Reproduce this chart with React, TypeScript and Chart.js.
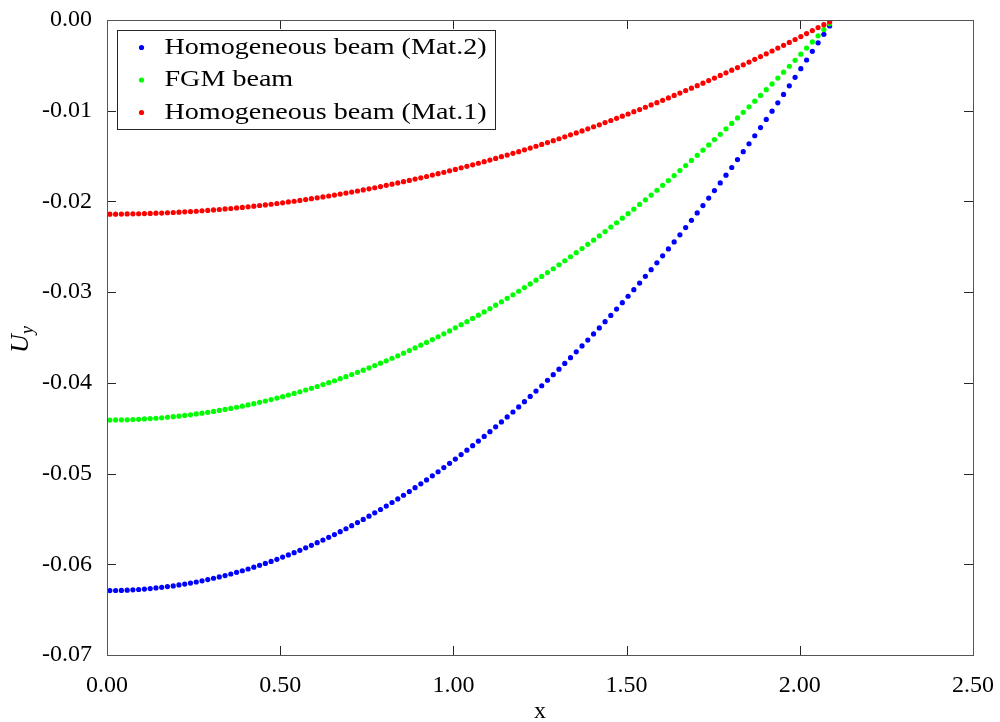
import { useEffect, useRef } from "react";
import { Chart, registerables } from "chart.js";

Chart.register(...registerables);

// x positions of the plotted points
const xPositions = [
  0.0083, 0.0249, 0.0416, 0.0582, 0.0748, 0.0914, 0.1080, 0.1247, 0.1413, 0.1579,
  0.1745, 0.1912, 0.2078, 0.2244, 0.2410, 0.2576, 0.2743, 0.2909, 0.3075, 0.3241,
  0.3408, 0.3574, 0.3740, 0.3906, 0.4072, 0.4239, 0.4405, 0.4571, 0.4737, 0.4904,
  0.5070, 0.5236, 0.5402, 0.5568, 0.5735, 0.5901, 0.6067, 0.6233, 0.6400, 0.6566,
  0.6732, 0.6898, 0.7064, 0.7231, 0.7397, 0.7563, 0.7729, 0.7896, 0.8062, 0.8228,
  0.8394, 0.8560, 0.8727, 0.8893, 0.9059, 0.9225, 0.9392, 0.9558, 0.9724, 0.9890,
  1.0056, 1.0223, 1.0389, 1.0555, 1.0721, 1.0888, 1.1054, 1.1220, 1.1386, 1.1552,
  1.1719, 1.1885, 1.2051, 1.2217, 1.2384, 1.2550, 1.2716, 1.2882, 1.3048, 1.3215,
  1.3381, 1.3547, 1.3713, 1.3880, 1.4046, 1.4212, 1.4378, 1.4544, 1.4711, 1.4877,
  1.5043, 1.5209, 1.5376, 1.5542, 1.5708, 1.5874, 1.6040, 1.6207, 1.6373, 1.6539,
  1.6705, 1.6872, 1.7038, 1.7204, 1.7370, 1.7536, 1.7703, 1.7869, 1.8035, 1.8201,
  1.8368, 1.8534, 1.8700, 1.8866, 1.9032, 1.9199, 1.9365, 1.9531, 1.9697, 1.9864,
  2.0030, 2.0196, 2.0362, 2.0528, 2.0695, 2.0861,
];

// Homogeneous beam (Mat.2) - blue
const uyMat2 = [
  -0.06290, -0.06289, -0.06288, -0.06285, -0.06282, -0.06278, -0.06273, -0.06268, -0.06261, -0.06254,
  -0.06246, -0.06238, -0.06228, -0.06218, -0.06207, -0.06195, -0.06182, -0.06169, -0.06154, -0.06139,
  -0.06124, -0.06107, -0.06089, -0.06071, -0.06052, -0.06032, -0.06012, -0.05990, -0.05968, -0.05945,
  -0.05921, -0.05897, -0.05872, -0.05846, -0.05818, -0.05791, -0.05762, -0.05733, -0.05703, -0.05672,
  -0.05640, -0.05608, -0.05574, -0.05540, -0.05505, -0.05470, -0.05433, -0.05396, -0.05358, -0.05319,
  -0.05280, -0.05239, -0.05198, -0.05156, -0.05113, -0.05070, -0.05025, -0.04980, -0.04934, -0.04887,
  -0.04840, -0.04791, -0.04742, -0.04692, -0.04642, -0.04590, -0.04538, -0.04485, -0.04431, -0.04376,
  -0.04321, -0.04265, -0.04207, -0.04150, -0.04091, -0.04032, -0.03971, -0.03910, -0.03849, -0.03786,
  -0.03722, -0.03658, -0.03593, -0.03528, -0.03461, -0.03394, -0.03326, -0.03257, -0.03187, -0.03116,
  -0.03045, -0.02973, -0.02900, -0.02826, -0.02752, -0.02677, -0.02600, -0.02524, -0.02446, -0.02368,
  -0.02288, -0.02208, -0.02127, -0.02046, -0.01963, -0.01880, -0.01796, -0.01711, -0.01626, -0.01539,
  -0.01452, -0.01364, -0.01276, -0.01186, -0.01096, -0.01005, -0.00913, -0.00820, -0.00726, -0.00632,
  -0.00537, -0.00441, -0.00345, -0.00252, -0.00158, -0.00065,
];

// FGM beam - green
const uyFGM = [
  -0.04410, -0.04409, -0.04408, -0.04407, -0.04404, -0.04402, -0.04398, -0.04394, -0.04390, -0.04385,
  -0.04379, -0.04373, -0.04367, -0.04359, -0.04352, -0.04343, -0.04334, -0.04325, -0.04315, -0.04304,
  -0.04293, -0.04282, -0.04269, -0.04257, -0.04243, -0.04229, -0.04215, -0.04200, -0.04184, -0.04168,
  -0.04152, -0.04134, -0.04117, -0.04098, -0.04079, -0.04060, -0.04040, -0.04019, -0.03998, -0.03977,
  -0.03954, -0.03932, -0.03908, -0.03884, -0.03860, -0.03835, -0.03809, -0.03783, -0.03757, -0.03729,
  -0.03702, -0.03673, -0.03644, -0.03615, -0.03585, -0.03554, -0.03523, -0.03492, -0.03459, -0.03427,
  -0.03393, -0.03359, -0.03325, -0.03290, -0.03254, -0.03218, -0.03182, -0.03144, -0.03107, -0.03068,
  -0.03029, -0.02990, -0.02950, -0.02909, -0.02868, -0.02827, -0.02784, -0.02742, -0.02698, -0.02654,
  -0.02610, -0.02565, -0.02519, -0.02473, -0.02427, -0.02380, -0.02332, -0.02283, -0.02235, -0.02185,
  -0.02135, -0.02085, -0.02033, -0.01982, -0.01930, -0.01877, -0.01823, -0.01770, -0.01715, -0.01660,
  -0.01605, -0.01548, -0.01492, -0.01435, -0.01377, -0.01318, -0.01260, -0.01200, -0.01140, -0.01080,
  -0.01018, -0.00957, -0.00895, -0.00832, -0.00768, -0.00705, -0.00640, -0.00575, -0.00510, -0.00444,
  -0.00377, -0.00310, -0.00242, -0.00174, -0.00105, -0.00040,
];

// Homogeneous beam (Mat.1) - red
const uyMat1 = [
  -0.02140, -0.02140, -0.02139, -0.02138, -0.02137, -0.02136, -0.02134, -0.02132, -0.02130, -0.02128,
  -0.02125, -0.02122, -0.02119, -0.02115, -0.02112, -0.02108, -0.02103, -0.02099, -0.02094, -0.02089,
  -0.02083, -0.02078, -0.02072, -0.02066, -0.02059, -0.02052, -0.02045, -0.02038, -0.02031, -0.02023,
  -0.02015, -0.02006, -0.01998, -0.01989, -0.01980, -0.01970, -0.01960, -0.01950, -0.01940, -0.01930,
  -0.01919, -0.01908, -0.01897, -0.01885, -0.01873, -0.01861, -0.01849, -0.01836, -0.01823, -0.01810,
  -0.01796, -0.01782, -0.01768, -0.01754, -0.01740, -0.01725, -0.01710, -0.01694, -0.01679, -0.01663,
  -0.01647, -0.01630, -0.01613, -0.01596, -0.01579, -0.01562, -0.01544, -0.01526, -0.01507, -0.01489,
  -0.01470, -0.01451, -0.01431, -0.01412, -0.01392, -0.01372, -0.01351, -0.01330, -0.01309, -0.01288,
  -0.01266, -0.01245, -0.01223, -0.01200, -0.01177, -0.01155, -0.01131, -0.01108, -0.01084, -0.01060,
  -0.01036, -0.01011, -0.00987, -0.00962, -0.00936, -0.00911, -0.00885, -0.00859, -0.00832, -0.00805,
  -0.00778, -0.00751, -0.00724, -0.00696, -0.00668, -0.00640, -0.00611, -0.00582, -0.00553, -0.00524,
  -0.00494, -0.00464, -0.00434, -0.00403, -0.00373, -0.00342, -0.00310, -0.00279, -0.00247, -0.00215,
  -0.00183, -0.00150, -0.00117, -0.00084, -0.00051, -0.00020,
];

const seriesLabels = ["Homogeneous beam (Mat.2)", "FGM beam", "Homogeneous beam (Mat.1)"];
const seriesColors = ["#0000ff", "#00ff00", "#ff0000"];
const xAxisTitle = "x";
const yAxisTitleMain = "U";
const yAxisTitleSub = "y";

const FONT_FAMILY = '"Liberation Serif", "Times New Roman", serif';
const TICK_SIZE = 24;
const LEGEND_STRETCH = 1.17;

const framePlugin = {
  id: "matlabFrame",
  afterDatasetsDraw(chart: any) {
    const { ctx, chartArea } = chart;
    const { left, right, top, bottom } = chartArea;
    const xs = chart.scales.x;
    const ys = chart.scales.y;
    const tl = 9;
    ctx.save();
    ctx.strokeStyle = "#262626";
    ctx.lineWidth = 1;
    ctx.beginPath();
    xs.ticks.forEach((t: any) => {
      const px = Math.round(xs.getPixelForValue(t.value)) + 0.5;
      ctx.moveTo(px, bottom);
      ctx.lineTo(px, bottom - tl);
      ctx.moveTo(px, top);
      ctx.lineTo(px, top + tl);
    });
    ys.ticks.forEach((t: any) => {
      const py = Math.round(ys.getPixelForValue(t.value)) + 0.5;
      ctx.moveTo(left, py);
      ctx.lineTo(left + tl, py);
      ctx.moveTo(right, py);
      ctx.lineTo(right - tl, py);
    });
    ctx.stroke();
    ctx.strokeStyle = "#555555";
    ctx.strokeRect(Math.round(left) + 0.5, Math.round(top) + 0.5, Math.round(right - left), Math.round(bottom - top));

    // legend
    const lx = Math.round(left) + 10.5;
    const ly = Math.round(top) + 10.5;
    ctx.font = `${TICK_SIZE}px ${FONT_FAMILY}`;
    let maxW = 0;
    chart.data.datasets.forEach((d: any) => {
      maxW = Math.max(maxW, ctx.measureText(d.label).width * LEGEND_STRETCH);
    });
    const rowH = 32.5;
    const lw = Math.round(47 + maxW + 9);
    const lh = 99;
    ctx.fillStyle = "#ffffff";
    ctx.fillRect(lx, ly, lw, lh);
    ctx.strokeStyle = "#262626";
    ctx.strokeRect(lx, ly, lw, lh);
    chart.data.datasets.forEach((d: any, i: number) => {
      const cy = ly + 17 + i * rowH;
      ctx.fillStyle = d.backgroundColor;
      ctx.beginPath();
      ctx.arc(lx + 24, cy, 2.6, 0, Math.PI * 2);
      ctx.fill();
      ctx.fillStyle = "#000000";
      ctx.textAlign = "left";
      ctx.textBaseline = "middle";
      ctx.save();
      ctx.translate(lx + 47, cy);
      ctx.scale(LEGEND_STRETCH, 1);
      ctx.fillText(d.label, 0, 0);
      ctx.restore();
    });

    // axis titles
    ctx.fillStyle = "#000000";
    ctx.textAlign = "center";
    ctx.textBaseline = "alphabetic";
    ctx.font = `${TICK_SIZE}px ${FONT_FAMILY}`;
    ctx.fillText(xAxisTitle, (left + right) / 2, 718);

    ctx.translate(28, (top + bottom) / 2 + 2);
    ctx.rotate(-Math.PI / 2);
    ctx.font = `italic 26px ${FONT_FAMILY}`;
    const uw = ctx.measureText(yAxisTitleMain).width;
    ctx.font = `italic 18px ${FONT_FAMILY}`;
    const sw = ctx.measureText(yAxisTitleSub).width;
    const startX = -(uw + sw) / 2;
    ctx.textAlign = "left";
    ctx.font = `italic 26px ${FONT_FAMILY}`;
    ctx.fillText(yAxisTitleMain, startX, 0);
    ctx.font = `italic 18px ${FONT_FAMILY}`;
    ctx.fillText(yAxisTitleSub, startX + uw, 5);
    ctx.restore();
  },
};

export default function App() {
  const canvasRef = useRef<HTMLCanvasElement | null>(null);

  useEffect(() => {
    document.body.style.margin = "0";
    const canvas = canvasRef.current;
    if (!canvas) return;
    const series = [uyMat2, uyFGM, uyMat1];
    const chart = new Chart(canvas, {
      type: "scatter",
      data: {
        datasets: series.map((vals, i) => ({
          label: seriesLabels[i],
          data: xPositions.map((x, k) => ({ x, y: vals[k] })),
          backgroundColor: seriesColors[i],
          borderColor: seriesColors[i],
          borderWidth: 0,
          pointRadius: 2.6,
          pointHoverRadius: 2.6,
          showLine: false,
          order: 2 - i,
        })),
      },
      options: {
        responsive: false,
        animation: false,
        devicePixelRatio: 1,
        layout: { padding: { left: 0, right: 27, top: 20, bottom: 0 } },
        plugins: {
          legend: { display: false },
          tooltip: { enabled: false },
          title: { display: false },
        },
        scales: {
          x: {
            type: "linear",
            min: 0,
            max: 2.5,
            grid: { display: false },
            border: { display: false },
            ticks: {
              stepSize: 0.5,
              color: "#000000",
              padding: 8,
              maxRotation: 0,
              font: { family: FONT_FAMILY, size: TICK_SIZE },
              callback: (v: any) => Number(v).toFixed(2),
            },
            afterFit: (s: any) => {
              s.height = 67;
              s.paddingLeft = 0;
              s.paddingRight = 0;
            },
          },
          y: {
            type: "linear",
            min: -0.07,
            max: 0,
            grid: { display: false },
            border: { display: false },
            ticks: {
              stepSize: 0.01,
              color: "#000000",
              padding: 7,
              font: { family: FONT_FAMILY, size: TICK_SIZE },
              callback: (v: any) => {
                const s = Number(v).toFixed(2);
                return s === "-0.00" ? "0.00" : s;
              },
            },
            afterFit: (s: any) => {
              s.width = 107;
              s.paddingTop = 0;
              s.paddingBottom = 0;
            },
          },
        },
      },
      plugins: [framePlugin],
    });
    return () => chart.destroy();
  }, []);

  return (
    <div style={{ position: "absolute", left: 0, top: 0, width: 1000, height: 722 }}>
      <canvas ref={canvasRef} width={1000} height={722} style={{ width: 1000, height: 722, display: "block" }} />
    </div>
  );
}
